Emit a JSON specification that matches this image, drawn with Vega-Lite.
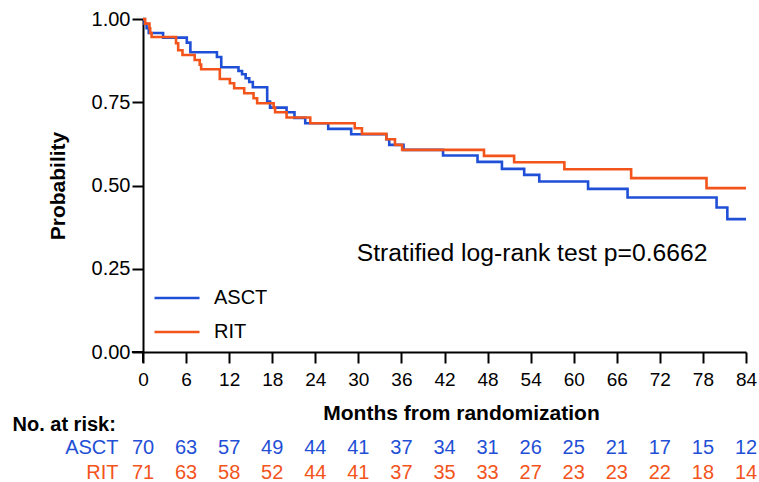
{
  "$schema": "https://vega.github.io/schema/vega-lite/v6.json",
  "autosize": {"type": "pad"},
  "padding": {"left": 12, "top": 9, "right": 0, "bottom": 0},
  "bounds": "flush",
  "spacing": 83,
  "config": {
    "font": "Liberation Sans",
    "view": {"stroke": null},
    "axis": {"domainColor": "#000", "tickColor": "#000", "labelColor": "#000", "titleColor": "#000", "grid": false, "labelFont": "Liberation Sans", "titleFont": "Liberation Sans"},
    "legend": {"labelFont": "Liberation Sans"}
  },
  "datasets": {
    "curves": [
      {"arm": "ASCT", "t": 0, "p": 1.0},
      {"arm": "ASCT", "t": 0.2, "p": 0.986},
      {"arm": "ASCT", "t": 0.5, "p": 0.972},
      {"arm": "ASCT", "t": 0.8, "p": 0.958},
      {"arm": "ASCT", "t": 2.8, "p": 0.944},
      {"arm": "ASCT", "t": 6.1, "p": 0.929},
      {"arm": "ASCT", "t": 6.6, "p": 0.900},
      {"arm": "ASCT", "t": 10.3, "p": 0.886},
      {"arm": "ASCT", "t": 10.9, "p": 0.855},
      {"arm": "ASCT", "t": 13.3, "p": 0.844},
      {"arm": "ASCT", "t": 13.8, "p": 0.834},
      {"arm": "ASCT", "t": 14.3, "p": 0.822},
      {"arm": "ASCT", "t": 14.8, "p": 0.811},
      {"arm": "ASCT", "t": 15.3, "p": 0.795},
      {"arm": "ASCT", "t": 17.3, "p": 0.752},
      {"arm": "ASCT", "t": 17.7, "p": 0.734},
      {"arm": "ASCT", "t": 20.0, "p": 0.720},
      {"arm": "ASCT", "t": 21.1, "p": 0.703},
      {"arm": "ASCT", "t": 22.6, "p": 0.687},
      {"arm": "ASCT", "t": 25.8, "p": 0.670},
      {"arm": "ASCT", "t": 29.0, "p": 0.654},
      {"arm": "ASCT", "t": 33.9, "p": 0.639},
      {"arm": "ASCT", "t": 34.3, "p": 0.622},
      {"arm": "ASCT", "t": 36.3, "p": 0.607},
      {"arm": "ASCT", "t": 41.8, "p": 0.590},
      {"arm": "ASCT", "t": 46.6, "p": 0.571},
      {"arm": "ASCT", "t": 50.0, "p": 0.550},
      {"arm": "ASCT", "t": 53.1, "p": 0.532},
      {"arm": "ASCT", "t": 55.2, "p": 0.512},
      {"arm": "ASCT", "t": 62.0, "p": 0.490},
      {"arm": "ASCT", "t": 67.5, "p": 0.464},
      {"arm": "ASCT", "t": 79.9, "p": 0.434},
      {"arm": "ASCT", "t": 81.4, "p": 0.399},
      {"arm": "ASCT", "t": 84.0, "p": 0.399},
      {"arm": "RIT", "t": 0, "p": 1.0},
      {"arm": "RIT", "t": 0.3, "p": 0.986},
      {"arm": "RIT", "t": 0.9, "p": 0.972},
      {"arm": "RIT", "t": 1.0, "p": 0.958},
      {"arm": "RIT", "t": 1.2, "p": 0.946},
      {"arm": "RIT", "t": 4.6, "p": 0.927},
      {"arm": "RIT", "t": 4.9, "p": 0.906},
      {"arm": "RIT", "t": 5.5, "p": 0.892},
      {"arm": "RIT", "t": 7.2, "p": 0.877},
      {"arm": "RIT", "t": 7.9, "p": 0.863},
      {"arm": "RIT", "t": 8.1, "p": 0.849},
      {"arm": "RIT", "t": 10.7, "p": 0.820},
      {"arm": "RIT", "t": 12.1, "p": 0.807},
      {"arm": "RIT", "t": 12.7, "p": 0.792},
      {"arm": "RIT", "t": 14.1, "p": 0.777},
      {"arm": "RIT", "t": 15.4, "p": 0.762},
      {"arm": "RIT", "t": 15.9, "p": 0.747},
      {"arm": "RIT", "t": 18.2, "p": 0.734},
      {"arm": "RIT", "t": 18.4, "p": 0.720},
      {"arm": "RIT", "t": 20.0, "p": 0.704},
      {"arm": "RIT", "t": 23.3, "p": 0.687},
      {"arm": "RIT", "t": 29.5, "p": 0.672},
      {"arm": "RIT", "t": 30.5, "p": 0.655},
      {"arm": "RIT", "t": 33.9, "p": 0.639},
      {"arm": "RIT", "t": 35.1, "p": 0.622},
      {"arm": "RIT", "t": 36.1, "p": 0.607},
      {"arm": "RIT", "t": 47.5, "p": 0.589},
      {"arm": "RIT", "t": 51.7, "p": 0.570},
      {"arm": "RIT", "t": 58.7, "p": 0.549},
      {"arm": "RIT", "t": 68.0, "p": 0.522},
      {"arm": "RIT", "t": 78.5, "p": 0.492},
      {"arm": "RIT", "t": 84.0, "p": 0.492}
    ],
    "risk": [
      {"arm": "ASCT", "t": 0, "n": 70}, {"arm": "ASCT", "t": 6, "n": 63}, {"arm": "ASCT", "t": 12, "n": 57},
      {"arm": "ASCT", "t": 18, "n": 49}, {"arm": "ASCT", "t": 24, "n": 44}, {"arm": "ASCT", "t": 30, "n": 41},
      {"arm": "ASCT", "t": 36, "n": 37}, {"arm": "ASCT", "t": 42, "n": 34}, {"arm": "ASCT", "t": 48, "n": 31},
      {"arm": "ASCT", "t": 54, "n": 26}, {"arm": "ASCT", "t": 60, "n": 25}, {"arm": "ASCT", "t": 66, "n": 21},
      {"arm": "ASCT", "t": 72, "n": 17}, {"arm": "ASCT", "t": 78, "n": 15}, {"arm": "ASCT", "t": 84, "n": 12},
      {"arm": "RIT", "t": 0, "n": 71}, {"arm": "RIT", "t": 6, "n": 63}, {"arm": "RIT", "t": 12, "n": 58},
      {"arm": "RIT", "t": 18, "n": 52}, {"arm": "RIT", "t": 24, "n": 44}, {"arm": "RIT", "t": 30, "n": 41},
      {"arm": "RIT", "t": 36, "n": 37}, {"arm": "RIT", "t": 42, "n": 35}, {"arm": "RIT", "t": 48, "n": 33},
      {"arm": "RIT", "t": 54, "n": 27}, {"arm": "RIT", "t": 60, "n": 23}, {"arm": "RIT", "t": 66, "n": 23},
      {"arm": "RIT", "t": 72, "n": 22}, {"arm": "RIT", "t": 78, "n": 18}, {"arm": "RIT", "t": 84, "n": 14}
    ],
    "note": [{"label": "Stratified log-rank test p=0.6662"}]
  },
  "resolve": {"scale": {"color": "independent", "x": "independent"}, "legend": {"color": "independent"}},
  "vconcat": [
    {
      "width": 603,
      "height": 333,
      "layer": [
        {
          "data": {"name": "curves"},
          "mark": {"type": "line", "interpolate": "step-after", "strokeWidth": 2.6},
          "encoding": {
            "x": {
              "field": "t", "type": "quantitative",
              "scale": {"domain": [0, 84], "nice": false, "zero": false},
              "axis": {
                "values": [0, 6, 12, 18, 24, 30, 36, 42, 48, 54, 60, 66, 72, 78, 84],
                "title": "Months from randomization", "labelFlush": false,
                "titleFontSize": 21, "titleFontWeight": "bold", "titlePadding": 13, "titleX": 318,
                "labelFontSize": 19, "labelPadding": 7, "tickSize": 11, "tickWidth": 2, "domainWidth": 2
              }
            },
            "y": {
              "field": "p", "type": "quantitative",
              "scale": {"domain": [0, 1], "nice": false},
              "axis": {
                "values": [0, 0.25, 0.5, 0.75, 1], "format": ".2f", "labelFlush": false,
                "title": "Probability",
                "titleFontSize": 21, "titleFontWeight": "bold", "titlePadding": 23,
                "labelFontSize": 20, "labelPadding": 2, "tickSize": 11, "tickWidth": 2, "domainWidth": 2
              }
            },
            "color": {
              "field": "arm", "type": "nominal",
              "scale": {"domain": ["ASCT", "RIT"], "range": ["#1f4fd6", "#f2541b"]},
              "legend": {
                "title": null, "orient": "none", "legendX": 10, "legendY": 255,
                "symbolType": "stroke", "symbolSize": 2025, "symbolStrokeWidth": 2.6,
                "labelFontSize": 20, "labelOffset": 13, "rowPadding": -1, "labelColor": "#000"
              }
            }
          }
        },
        {
          "data": {"name": "note"},
          "mark": {"type": "rule", "color": "#000", "strokeWidth": 2},
          "encoding": {
            "x": {"datum": -1.55, "type": "quantitative"},
            "x2": {"datum": 0},
            "y": {"datum": 0, "type": "quantitative"}
          }
        },
        {
          "data": {"name": "note"},
          "mark": {"type": "rule", "color": "#000", "strokeWidth": 2},
          "encoding": {
            "x": {"datum": 0, "type": "quantitative"},
            "y": {"datum": -0.032, "type": "quantitative"},
            "y2": {"datum": 0}
          }
        },
        {
          "data": {"name": "note"},
          "mark": {"type": "text", "fontSize": 24.7, "align": "center", "baseline": "middle", "color": "#000"},
          "encoding": {
            "x": {"datum": 54.2, "type": "quantitative"},
            "y": {"datum": 0.293, "type": "quantitative"},
            "text": {"field": "label"}
          }
        }
      ]
    },
    {
      "width": 603,
      "height": 50,
      "data": {"name": "risk"},
      "mark": {"type": "text", "fontSize": 20, "baseline": "middle", "align": "center"},
      "encoding": {
        "x": {"field": "t", "type": "quantitative", "scale": {"domain": [0, 84], "nice": false}, "axis": null},
        "y": {
          "field": "arm", "type": "nominal", "sort": ["ASCT", "RIT"],
          "axis": {
            "title": "No. at risk:", "titleAngle": 0, "titleAlign": "left", "titleBaseline": "middle",
            "titleX": -131, "titleY": -11, "titleFontSize": 20, "titleFontWeight": "bold",
            "domain": false, "ticks": false, "tickSize": 0, "labelPadding": 25, "labelFontSize": 20,
            "labelColor": {"condition": {"test": "datum.value === 'ASCT'", "value": "#1f4fd6"}, "value": "#f2541b"}
          }
        },
        "text": {"field": "n", "type": "quantitative"},
        "color": {
          "field": "arm", "type": "nominal",
          "scale": {"domain": ["ASCT", "RIT"], "range": ["#1f4fd6", "#f2541b"]},
          "legend": null
        }
      }
    }
  ]
}
